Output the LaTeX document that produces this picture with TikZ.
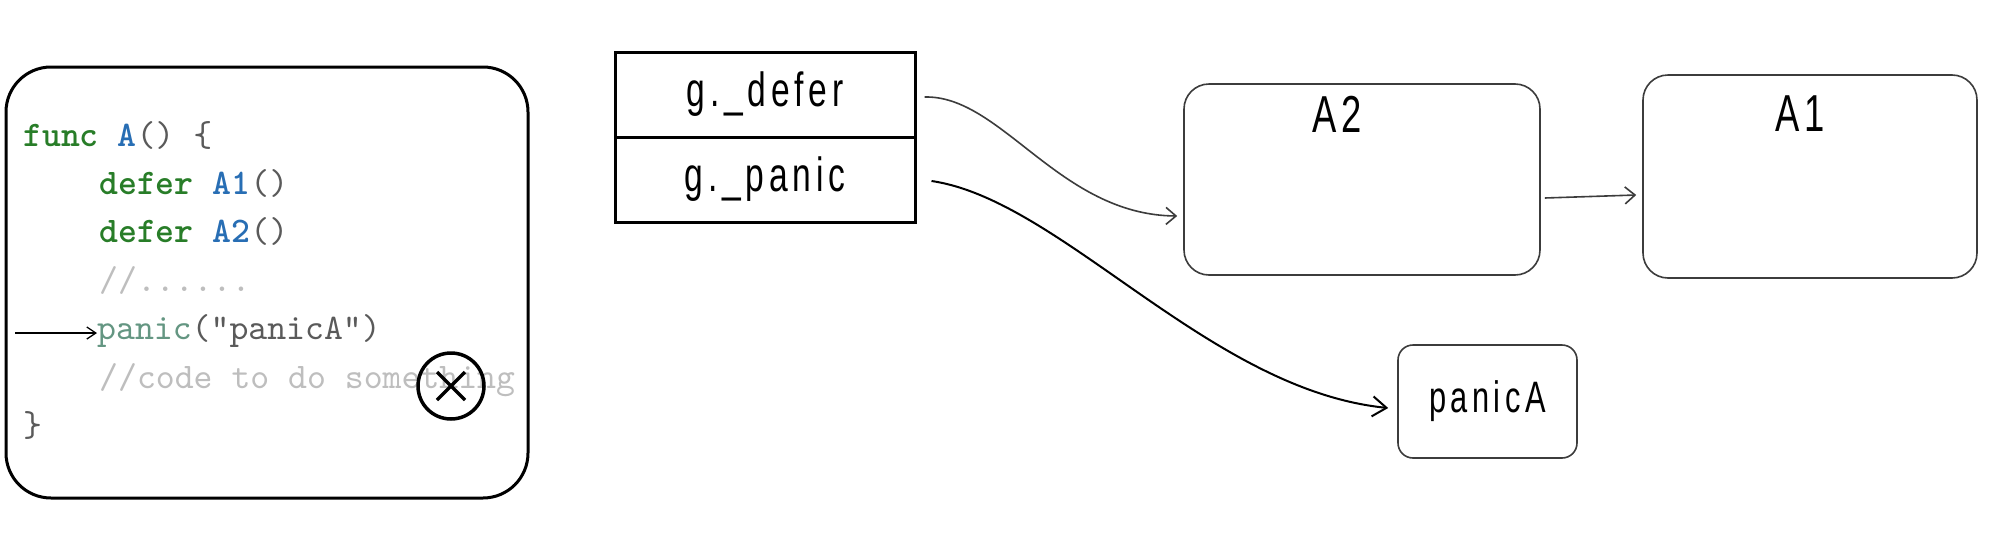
\documentclass[tikz,border=0pt]{standalone}
\usepackage{fontspec}
\usetikzlibrary{arrows.meta}
\newfontfamily\codefont[Extension=.otf, UprightFont=lmmono10-regular, BoldFont=lmmonolt10-bold]{lmmono10-regular}
\newfontfamily\handfont[FakeStretch=0.7,LetterSpace=10]{Liberation Sans}
\definecolor{kwgreen}{RGB}{40,125,40}
\definecolor{fnblue}{RGB}{40,110,180}
\definecolor{pargray}{RGB}{90,90,90}
\definecolor{panicteal}{RGB}{100,150,130}
\definecolor{cmtgray}{RGB}{190,190,190}
\definecolor{boxgray}{RGB}{60,60,60}
\tikzset{
  codeline/.style={anchor=base west, inner sep=0pt, font=\codefont\fontsize{36}{37}\selectfont},
  cellbox/.style={draw, line width=3pt, minimum width=300pt, minimum height=85pt, inner sep=0pt,
    font=\handfont\fontsize{48}{50}\selectfont},
  funcbox/.style={draw=boxgray, line width=1.6pt, rounded corners=25pt, inner sep=0pt},
  boxlabel/.style={anchor=base, inner sep=0pt, font=\handfont\fontsize{52}{54}\selectfont},
  conn/.style={draw=boxgray, line width=1.6pt},
}
\begin{document}
\begin{tikzpicture}[x=1pt,y=-1pt]
\useasboundingbox (0,0) rectangle (1990,536);
\fill[white] (0,0) rectangle (1990,536);

% code box
\node[draw, line width=3pt, rounded corners=45pt, minimum width=522pt, minimum height=431pt, inner sep=0pt] (codebox) at (267,282.5) {};
\node[codeline] (l1) at (23,146) {{\bfseries\color{kwgreen}func} {\bfseries\color{fnblue}A}{\color{pargray}() \{}};
\node[codeline] (l2) at (99,194.3) {{\bfseries\color{kwgreen}defer} {\bfseries\color{fnblue}A1}{\color{pargray}()}};
\node[codeline] (l3) at (99,242.6) {{\bfseries\color{kwgreen}defer} {\bfseries\color{fnblue}A2}{\color{pargray}()}};
\node[codeline, text=cmtgray] (l4) at (99,291) {//......};
\node[codeline] (l5) at (97,339) {{\color{panicteal}panic}{\color{pargray}("panicA")}};
\node[codeline, text=cmtgray] (l6) at (99,388) {//code to do something};
\node[codeline, text=pargray] (l7) at (23,436) {\}};

\coordinate (pstart) at (15,333);
\draw[line width=1.3pt, -{Straight Barb[length=9pt,width=12pt]}] (pstart) -- (l5.west |- pstart);

% crossed circle
\node[draw, circle, line width=3.5pt, minimum size=66pt, inner sep=0pt] (xmark) at (451,386) {};
\draw[line width=3.5pt] ([shift={(-14pt,14pt)}]xmark.center) -- ([shift={(14pt,-14pt)}]xmark.center);
\draw[line width=3.5pt] ([shift={(-14pt,-14pt)}]xmark.center) -- ([shift={(14pt,14pt)}]xmark.center);

% g struct
\node[cellbox] (gdefer) at (765,94.5) {g.\_defer};
\node[cellbox] (gpanic) at (765,179.5) {g.\_panic};

% defer chain
\node[funcbox, minimum width=356pt, minimum height=191pt] (A2box) at (1362,179.5) {};
\node[boxlabel] (A2lab) at (1337,132) {A2};
\node[funcbox, minimum width=334pt, minimum height=203pt] (A1box) at (1810,176.5) {};
\node[boxlabel] (A1lab) at (1800,131) {A1};

% panic box
\node[funcbox, rounded corners=15pt, minimum width=179pt, minimum height=113pt, font=\handfont\fontsize{44}{46}\selectfont] (pbox) at (1487.5,401.5) {panicA};

% connectors
\draw[conn, -{Straight Barb[length=10pt,width=17pt]}]
  ([xshift=8pt,yshift=-2.5pt]gdefer.east) .. controls +(77,-2) and +(-118,-1) .. ([xshift=-6pt,yshift=-36.5pt]A2box.west);
\draw[line width=2pt, -{Straight Barb[length=14pt,width=20pt]}]
  ([xshift=15pt,yshift=-1.5pt]gpanic.east) .. controls +(130,19) and +(-179,-18) .. ([xshift=-9pt,yshift=-6.5pt]pbox.west);
\draw[conn, -{Straight Barb[length=10pt,width=17pt]}]
  ([xshift=4pt,yshift=-18.5pt]A2box.east) -- ([xshift=-6pt,yshift=-18.5pt]A1box.west);
\end{tikzpicture}
\end{document}
